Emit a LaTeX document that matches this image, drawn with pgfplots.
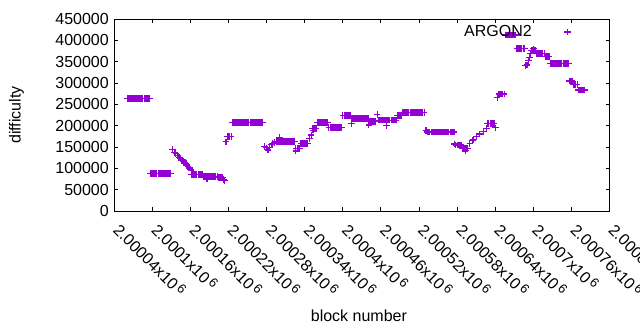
\documentclass[border=0pt]{standalone}
\usepackage{fontspec}
\setmainfont{Liberation Sans}
\usepackage{pgfplots}
\pgfplotsset{compat=1.18}
\definecolor{argon}{RGB}{148,0,211}
\newcommand{\fs}{\fontsize{16bp}{19bp}\selectfont}
\newcommand{\xl}[1]{#1x10\kern2.5bp\raisebox{0.25em}{\fontsize{13bp}{13bp}\selectfont 6}}
\begin{document}
\fs
\begin{tikzpicture}[x=1bp,y=1bp]
\useasboundingbox (0,0) rectangle (640,330);
\begin{axis}[
  at={(114.3bp,119bp)}, anchor=south west,
  scale only axis, width=495.2bp, height=192bp,
  xmin=40, xmax=820, ymin=0, ymax=450000,
  xtick={40,100,160,220,280,340,400,460,520,580,640,700,760,820},
  xticklabels={\xl{2.00004},\xl{2.0001},\xl{2.00016},\xl{2.00022},\xl{2.00028},\xl{2.00034},\xl{2.0004},\xl{2.00046},\xl{2.00052},\xl{2.00058},\xl{2.00064},\xl{2.0007},\xl{2.00076},\xl{2.00082}},
  ytick={0,50000,100000,150000,200000,250000,300000,350000,400000,450000},
  scaled y ticks=false,
  yticklabel style={/pgf/number format/fixed, /pgf/number format/precision=0, /pgf/number format/1000 sep={}, /pgf/number format/assume math mode=true, font=\fs},
  xticklabel style={rotate=-45, anchor=base west, inner sep=0pt, xshift=13bp, yshift=-15.8bp, font=\fs},
  tick align=inside, major tick length=3.7bp,
  tick style={line width=0.9bp, black},
  axis line style={line width=0.9bp, black},
  xlabel={block number},
  xlabel style={at={(axis description cs:0.5,0)}, anchor=center, yshift=-105bp, xshift=-3bp, font=\fs},
  ylabel={difficulty},
  ylabel style={at={(axis description cs:-0.1975,0.5)}, anchor=center, font=\fs},
  legend plot pos=right,
  legend cell align=right,
  legend image code/.code={\path[draw=none] (0bp,0bp) -- (36bp,0bp); \draw[#1] plot coordinates {(36bp,0bp)};},
  legend style={at={(0.9223,0.932)}, anchor=east, draw=none, fill=none, inner sep=0pt, outer sep=0pt,
    nodes={inner sep=0pt, font=\fs}, /tikz/every even column/.append style={column sep=0pt}},
]
\addplot[only marks, mark=+, mark size=3.3bp, color=argon, mark options={line width=1.2bp, solid}]
coordinates {
(61,264000)(63,264000)(65,264000)(67,264000)(69,264000)(71,264000)(73,264000)(75,264000)(77,264000)
(79,264000)(81,264000)(83,264000)(85,264000)(87,264000)(89,264000)(91,264000)(93,264000)(95,264000)
(97,88000)(99,88000)(101,88000)(103,88000)(105,88000)(107,88000)(109,88000)(111,88000)(113,88000)
(115,88000)(117,88000)(119,88000)(121,88000)(123,88000)(125,88000)(127,88000)(129,88000)
(132,144000)(135,138000)(137,135000)(140,131000)(142,125000)(144,123000)(147,119500)(149,117000)
(151,112500)(154,108000)(156,104000)(158,101000)(161,96000)
(162,86000)(164,86000)(166,86000)(168,86000)(170,86000)(172,86000)(174,86000)(176,86000)(178,86000)
(180,81000)(182,81000)(184,81000)(186,81000)(188,81000)(190,81000)(192,81000)(194,81000)(196,81000)
(198,81000)(200,81000)(202,81000)(186,75000)
(204,78000)(206,78000)(208,78000)(210,78000)
(212,74000)(214,71000)(216,162000)
(218,175000)(220,175000)(222,175000)(224,175000)
(226,208000)(228,208000)(230,208000)(232,208000)(234,208000)(236,208000)(238,208000)(240,208000)
(242,208000)(244,208000)(246,208000)(248,208000)(250,208000)(252,208000)(254,208000)(256,208000)
(258,208000)(260,208000)(262,208000)(264,208000)(266,208000)(268,208000)(270,208000)(272,208000)(274,208000)
(277,151000)(280,148000)(282,143000)(284,149000)(287,155000)(289,158000)(292,160500)(295,163000)(300,172000)
(298,163500)(300,163500)(302,163500)(304,163500)(306,163500)(308,163500)(310,163500)(312,163500)
(314,163500)(316,163500)(318,163500)(320,163500)(322,163500)(324,163500)
(326,147000)(328,147000)(330,147000)(332,147000)(326,140500)
(334,158700)(336,158700)(338,158700)(340,158700)(342,158700)(344,158700)
(347,170000)(350,178000)(353,189500)
(352,193500)(354,193500)(356,193500)(358,193500)
(360,208000)(362,208000)(364,208000)(366,208000)(368,208000)(370,208000)(372,208000)(374,208000)(376,208000)
(378,196000)(380,196000)(382,196000)(384,196000)(386,196000)(388,196000)(390,196000)(392,196000)
(394,196000)(396,196000)(398,196000)
(400,224000)(402,224000)(404,224000)(406,224000)(408,224000)(410,224000)(412,224000)
(414,205500)
(414,217000)(416,217000)(418,217000)(420,217000)(422,217000)(424,217000)(426,217000)(428,217000)
(430,217000)(432,217000)(434,217000)(436,217000)(438,217000)(440,217000)
(441,201500)
(442,209500)(444,209500)(446,209500)(448,209500)(450,209500)(452,209500)
(454,226000)
(456,213000)(458,213000)(460,213000)(462,213000)(464,213000)(466,213000)(468,213000)(470,213000)
(472,213000)(474,213000)(476,213000)(478,213000)(480,213000)(482,213000)(484,213000)(469,200000)
(486,224000)(488,224000)(490,224000)(492,224000)
(494,231000)(496,231000)(498,231000)(500,231000)(502,231000)(504,231000)(506,231000)(508,231000)
(510,231000)(512,231000)(514,231000)(516,231000)(518,231000)(520,231000)(522,231000)(524,231000)
(526,231000)(528,231000)
(531,188500)
(533,185000)(535,185000)(537,185000)(539,185000)(541,185000)(543,185000)(545,185000)(547,185000)
(549,185000)(551,185000)(553,185000)(555,185000)(557,185000)(559,185000)(561,185000)(563,185000)
(565,185000)(567,185000)(569,185000)(571,185000)(573,185000)(575,185000)
(576,157000)
(578,154700)(580,154700)(582,154700)(584,154700)(586,154700)
(588,147000)(590,147000)(592,147000)(594,147000)(596,147000)(593,141500)
(600,158700)(605,166400)(610,174000)(615,180500)(621,186000)(626,194000)
(628,205500)(630,205500)(632,205500)(634,205500)(636,205500)(638,205500)(640,195000)
(643,266500)
(646,274000)(648,274000)(650,274000)(652,274000)(654,274000)
(656,412500)(658,412500)(660,412500)(662,412500)(664,412500)(666,412500)(668,412500)(670,412500)(672,412500)
(674,381000)(676,381000)(678,381000)(680,381000)(682,381000)(684,381000)(686,381000)
(688,340500)(690,342000)(692,352000)(694,360000)(696,369500)(700,380000)
(697,375700)(699,375700)(701,375700)(703,375700)
(705,369600)(707,369600)(709,369600)(711,369600)(713,369600)(715,369600)(717,369600)
(719,361600)(721,361600)(723,361600)(725,361600)
(727,346000)(729,346000)(731,346000)(733,346000)(735,346000)(737,346000)(739,346000)(741,346000)
(743,346000)(745,346000)(747,346000)(749,346000)(751,346000)(753,346000)(755,346000)
(757,304700)(759,304700)(761,304700)
(763,297000)(765,297000)(767,297000)(769,297000)
(771,283600)(773,283600)(775,283600)(777,283600)(779,283600)(781,283600)
};
\addlegendentry{ARGON2}
\end{axis}
\end{tikzpicture}
\end{document}
